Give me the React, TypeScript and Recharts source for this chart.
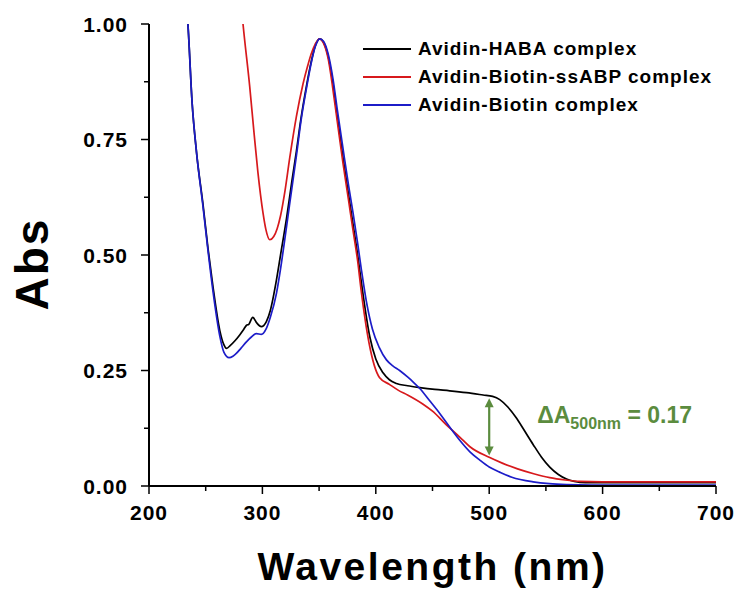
import {
  LineChart,
  Line,
  XAxis,
  YAxis,
  Legend,
  ReferenceLine,
  ReferenceDot,
} from 'recharts'

const FONT = "'Liberation Sans', Arial, Helvetica, sans-serif"
const GREEN = '#5b8c3e'

// wavelength (nm) / absorbance
const habaNm = [
  230, 234.3, 238, 242, 247.6, 252, 256.5, 262.4, 266, 268.3, 272, 276, 280, 283, 286, 288, 291.5, 295,
  299, 303.5, 307, 312.4, 316, 321.2, 326, 330, 334, 338.8, 343, 346.5, 350.5, 354, 358, 362.3, 366,
  371.1, 376, 380, 384, 387.3, 394.7, 400, 406.4, 412, 418.2, 428, 438.8, 452, 465.2, 480, 494.6, 503,
  509.3, 516, 524, 531, 538.7, 546, 553.4, 561, 568.2, 575, 580, 590, 600, 650, 700,
]
const habaAbs = [
  1.1, 1.0, 0.83, 0.72, 0.61, 0.515, 0.43, 0.337, 0.306, 0.298, 0.305, 0.315, 0.327, 0.337, 0.348,
  0.35, 0.365, 0.353, 0.345, 0.356, 0.38, 0.446, 0.5, 0.578, 0.66, 0.725, 0.795, 0.865, 0.918, 0.952,
  0.968, 0.96, 0.93, 0.87, 0.8, 0.71, 0.63, 0.565, 0.5, 0.44, 0.323, 0.275, 0.245, 0.23, 0.222, 0.217,
  0.213, 0.209, 0.206, 0.202, 0.197, 0.194, 0.187, 0.172, 0.147, 0.12, 0.09, 0.063, 0.041, 0.025,
  0.015, 0.01, 0.008, 0.007, 0.007, 0.007, 0.007,
]

const ssabpNm = [
  276, 282.9, 288.8, 292.6, 296, 300.6, 303, 306.5, 310, 313, 316, 320, 324.1, 330, 335.8, 340, 343,
  346.5, 350.3, 354, 358, 362, 366, 371, 376, 380, 384, 387, 394, 403.2, 412, 420, 428, 441.7, 450, 462,
  474, 483, 500, 512, 525, 540, 553.4, 567, 580, 600, 650, 700,
]
const ssabpAbs = [
  1.2, 1.0, 0.865, 0.765, 0.68, 0.59, 0.556, 0.533, 0.54, 0.557, 0.585, 0.64, 0.71, 0.8, 0.87, 0.91,
  0.935, 0.956, 0.968, 0.958, 0.925, 0.862, 0.79, 0.7, 0.618, 0.552, 0.487, 0.425, 0.31, 0.235, 0.22,
  0.207, 0.197, 0.177, 0.162, 0.133, 0.106, 0.085, 0.062, 0.049, 0.037, 0.026, 0.018, 0.013, 0.01,
  0.009, 0.009, 0.009,
]

const biotinNm = [
  230, 234.3, 238, 242, 247.6, 252, 256.5, 262.4, 266, 270.6, 274, 277, 281, 285.9, 290, 294.7, 299,
  303.5, 307, 312.4, 316, 321.2, 326, 330, 334, 338.8, 343, 346.5, 350.5, 354, 358, 362.3, 366, 371.1,
  376, 380, 384, 387.3, 391.8, 397, 403, 409.4, 415, 421, 428, 433, 438.8, 447, 456.4, 465, 474, 483,
  491.7, 500, 509.3, 520, 538.7, 553, 568, 590, 650, 700,
]
const biotinAbs = [
  1.1, 1.0, 0.83, 0.72, 0.605, 0.51, 0.42, 0.325, 0.29, 0.278, 0.281, 0.287, 0.298, 0.312, 0.322, 0.33,
  0.328, 0.341, 0.365, 0.417, 0.47, 0.56, 0.645, 0.715, 0.79, 0.86, 0.915, 0.95, 0.968, 0.962, 0.935,
  0.88, 0.815, 0.73, 0.65, 0.59, 0.525, 0.468, 0.398, 0.34, 0.3, 0.273, 0.26, 0.25, 0.236, 0.225, 0.211,
  0.186, 0.157, 0.128, 0.099, 0.074, 0.056, 0.041, 0.03, 0.019, 0.009, 0.005, 0.003, 0.002, 0.002,
  0.002,
]

const xTicks = [200, 250, 300, 350, 400, 450, 500, 550, 600, 650, 700]
const yTicks = [0, 0.125, 0.25, 0.375, 0.5, 0.625, 0.75, 0.875, 1]

const toPoints = (nm: number[], abs: number[]) => nm.map((x, i) => ({ nm: x, abs: abs[i] }))

const series = [
  { name: 'Avidin-HABA complex', color: '#000000', data: toPoints(habaNm, habaAbs) },
  { name: 'Avidin-Biotin-ssABP complex', color: '#d7191c', data: toPoints(ssabpNm, ssabpAbs) },
  { name: 'Avidin-Biotin complex', color: '#1c1cc8', data: toPoints(biotinNm, biotinAbs) },
]

const isMajorX = (v: number) => v % 100 === 0
const isMajorY = (v: number) => Math.round(v * 8) % 2 === 0

function BottomTick({ x, y, payload }: any) {
  const major = isMajorX(payload.value)
  return (
    <g>
      <line x1={x} x2={x} y1={y} y2={y + (major ? 8 : 5)} stroke="#000" strokeWidth={1.5} />
      {major && (
        <text x={x} y={y + 34} textAnchor="middle" fontFamily={FONT} fontWeight="bold" fontSize={21} letterSpacing={1} fill="#000">
          {payload.value}
        </text>
      )}
    </g>
  )
}

function TopTick({ x, y, payload }: any) {
  const major = isMajorX(payload.value)
  return <line x1={x} x2={x} y1={y} y2={y + (major ? 8 : 5)} stroke="#000" strokeWidth={1.5} />
}

function LeftTick({ x, y, payload }: any) {
  const major = isMajorY(payload.value)
  return (
    <g>
      <line x1={x - (major ? 8 : 5)} x2={x} y1={y} y2={y} stroke="#000" strokeWidth={1.5} />
      {major && (
        <text x={x - 21} y={y} dy="0.36em" textAnchor="end" fontFamily={FONT} fontWeight="bold" fontSize={21} letterSpacing={1} fill="#000">
          {payload.value.toFixed(2)}
        </text>
      )}
    </g>
  )
}

function RightTick({ x, y, payload }: any) {
  const major = isMajorY(payload.value)
  return <line x1={x - (major ? 8 : 5)} x2={x} y1={y} y2={y} stroke="#000" strokeWidth={1.5} />
}

function XTitle({ viewBox }: any) {
  return (
    <text x={viewBox.x + viewBox.width / 2} y={viewBox.y + 94} textAnchor="middle" fontFamily={FONT} fontWeight="bold" fontSize={39} letterSpacing={2.5} fill="#000">
      Wavelength (nm)
    </text>
  )
}

function YTitle({ viewBox }: any) {
  const cx = viewBox.x + 48
  const cy = 264
  return (
    <text x={cx} y={cy} transform={`rotate(-90 ${cx} ${cy})`} textAnchor="middle" fontFamily={FONT} fontWeight="bold" fontSize={46} letterSpacing={2} fill="#000">
      Abs
    </text>
  )
}

function DoubleArrow({ x1, y1, x2, y2 }: any) {
  const top = Math.min(y1, y2)
  const bottom = Math.max(y1, y2)
  return (
    <g>
      <line x1={x1} x2={x2} y1={top + 6} y2={bottom - 6} stroke={GREEN} strokeWidth={2.2} />
      <path d={`M${x1},${top} L${x1 - 4.5},${top + 9} L${x1 + 4.5},${top + 9} Z`} fill={GREEN} />
      <path d={`M${x1},${bottom} L${x1 - 4.5},${bottom - 9} L${x1 + 4.5},${bottom - 9} Z`} fill={GREEN} />
    </g>
  )
}

function DeltaLabel({ cx, cy }: any) {
  return (
    <text x={cx + 48} y={cy - 3} fontFamily={FONT} fontWeight="bold" fontSize={23} fill={GREEN}>
      ΔA
      <tspan fontSize={16} dy={6}>500nm</tspan>
      <tspan dy={-6}> = 0.17</tspan>
    </text>
  )
}

function LegendBox() {
  return (
    <div style={{ fontFamily: FONT, fontWeight: 'bold', fontSize: 19, color: '#000' }}>
      {series.map((s) => (
        <div key={s.name} style={{ display: 'flex', alignItems: 'center', height: 28 }}>
          <svg width={48} height={4} style={{ marginRight: 7 }}>
            <line x1={0} x2={48} y1={2} y2={2} stroke={s.color} strokeWidth={2} />
          </svg>
          <span style={{ letterSpacing: 1, whiteSpace: 'nowrap' }}>{s.name}</span>
        </div>
      ))}
    </div>
  )
}

export default function App() {
  return (
    <div style={{ position: 'absolute', left: 0, top: 0, width: 743, height: 590, background: '#fff' }}>
      <LineChart width={743} height={590} margin={{ top: 24, right: 27, bottom: 0, left: 0 }}>
        <XAxis
          dataKey="nm"
          type="number"
          domain={[200, 700]}
          ticks={xTicks}
          allowDataOverflow
          height={104}
          tickSize={0}
          tickMargin={0}
          tickLine={false}
          axisLine={{ stroke: '#000', strokeWidth: 2 }}
          tick={<BottomTick />}
          interval={0}
          label={<XTitle />}
        />
        <XAxis
          xAxisId="top"
          orientation="top"
          type="number"
          domain={[200, 700]}
          ticks={xTicks}
          height={0}
          tickSize={0}
          tickMargin={0}
          tickLine={false}
          axisLine={{ stroke: '#000', strokeWidth: 2 }}
          tick={<TopTick />}
          interval={0}
        />
        <YAxis
          type="number"
          domain={[0, 1]}
          ticks={yTicks}
          allowDataOverflow
          width={149}
          tickSize={0}
          tickMargin={0}
          tickLine={false}
          axisLine={{ stroke: '#000', strokeWidth: 2 }}
          tick={<LeftTick />}
          interval={0}
          label={<YTitle />}
        />
        <YAxis
          yAxisId="right"
          orientation="right"
          type="number"
          domain={[0, 1]}
          ticks={yTicks}
          width={0}
          tickSize={0}
          tickMargin={0}
          tickLine={false}
          axisLine={{ stroke: '#000', strokeWidth: 2 }}
          tick={<RightTick />}
          interval={0}
        />
        <Legend
          layout="horizontal"
          verticalAlign="middle"
          align="center"
          content={<LegendBox />}
          wrapperStyle={{ position: 'absolute', left: 363, top: 35, width: 360, height: 84 }}
        />
        {series.map((s) => (
          <Line
            key={s.name}
            data={s.data}
            dataKey="abs"
            name={s.name}
            type="monotone"
            stroke={s.color}
            strokeWidth={1.7}
            dot={false}
            activeDot={false}
            isAnimationActive={false}
          />
        ))}
        <ReferenceLine
          segment={[
            { x: 500, y: 0.19 },
            { x: 500, y: 0.066 },
          ]}
          shape={<DoubleArrow />}
        />
        <ReferenceDot x={500} y={0.13} r={0} shape={<DeltaLabel />} />
      </LineChart>
    </div>
  )
}
